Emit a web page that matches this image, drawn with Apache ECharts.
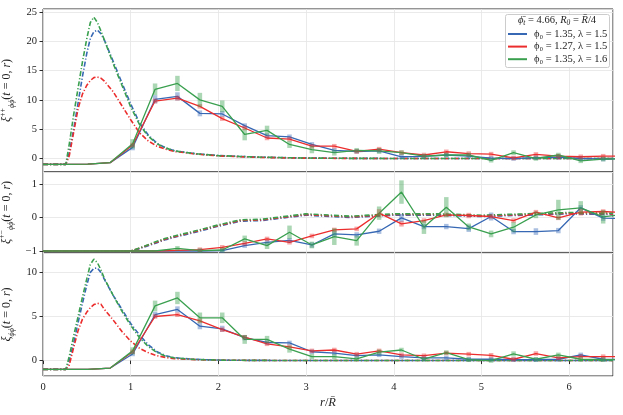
<!DOCTYPE html>
<html>
<head>
<meta charset="utf-8">
<script src="https://cdn.jsdelivr.net/npm/echarts@6/dist/echarts.min.js"></script>
<style>html,body{margin:0;padding:0;background:#fff}#c{width:623px;height:415px}</style>
</head>
<body>
<div id="c"></div>
<script>
// simulation grid (solid lines with error bars)
const xs = [0, 0.256, 0.511, 0.767, 1.022, 1.278, 1.533, 1.789, 2.044, 2.300, 2.555, 2.811, 3.066, 3.322, 3.577, 3.833, 4.088, 4.344, 4.599, 4.855, 5.110, 5.366, 5.621, 5.877, 6.132, 6.388, 6.643];
// theory grid (dash-dot lines)
const tx = [0, 0.26, 0.3, 0.35, 0.4, 0.45, 0.5, 0.54, 0.58, 0.62, 0.66, 0.7, 0.8, 0.9, 1.0, 1.1, 1.2, 1.3, 1.4, 1.5, 1.75, 2.0, 2.25, 2.5, 3.0, 3.5, 4.0, 4.5, 5.0, 5.5, 6.0, 6.5];

const names = ['ϕ₀ = 1.35, λ = 1.5', 'ϕ₀ = 1.27, λ = 1.5', 'ϕ₀ = 1.35, λ = 1.6'];

// panel 1: xi^{++}
const blue1  = [-1,-1,-0.95,-0.7,1.9,10.1,10.6,7.7,7.6,5.6,3.9,3.7,2.4,1.4,1.2,1.3,0.3,0.35,0.6,0.4,0.05,0.0,0.15,0.25,0.0,-0.1,0.0];
const red1   = [-1,-1,-0.95,-0.7,2.3,9.8,10.3,8.9,6.8,5.2,3.5,3.3,2.1,2.1,1.2,1.6,1.0,0.6,1.15,0.85,0.75,0.1,0.7,0.4,0.3,0.4,0.4];
const green1 = [-1,-1,-0.95,-0.7,2.5,11.8,12.8,10.0,8.9,4.1,4.8,2.4,1.5,1.0,1.4,1.3,1.0,0.4,0.6,0.6,-0.3,1.0,0.0,0.6,-0.4,-0.1,0.0];
const blueErr1  = [0,0,0,0,0.5,0.7,0.7,0.5,0.5,0.4,0.4,0.4,0.4,0.3,0.3,0.3,0.3,0.25,0.25,0.25,0.25,0.25,0.25,0.25,0.25,0.25];
const redErr1   = [0,0,0,0,0.3,0.4,0.4,0.3,0.3,0.25,0.25,0.25,0.25,0.25,0.25,0.25,0.25,0.25,0.25,0.25,0.25,0.25,0.25,0.25,0.25,0.25];
const greenErr1 = [0,0,0,0,0.8,1.0,1.3,1.2,1.0,1.0,0.8,0.6,0.6,0.5,0.4,0.5,0.4,0.3,0.3,0.3,0.3,0.4,0.3,0.3,0.3,0.3];
const tBlue1  = [-1,-1,1.0,5.0,9.5,14,18,20.5,21.6,21.9,21.3,20.2,16.6,12.9,9.3,6.1,4.0,2.6,1.8,1.3,0.8,0.5,0.35,0.22,0.08,0.03,0.01,0,0,0,0,0];
const tRed1   = [-1,-1,0.5,4.5,8.5,11,12.5,13.3,13.8,13.9,13.7,13.2,11.4,9.0,6.6,4.4,3.0,2.1,1.6,1.2,0.75,0.45,0.3,0.18,0.06,0.02,0,0,0,0,0,0];
const tGreen1 = [-1,-1,2.5,7.5,12,16.5,20.5,23.2,24.1,23.2,21.8,20.2,16.2,12.5,8.8,5.8,3.8,2.5,1.8,1.3,0.8,0.5,0.35,0.22,0.08,0.03,0.01,0,0,0,0,0];

// panel 2: xi^{+-}
const blue2  = [-1,-1,-1,-1,-1,-1,-1,-1,-0.99,-0.84,-0.74,-0.68,-0.82,-0.49,-0.52,-0.41,-0.01,-0.27,-0.27,-0.33,0.03,-0.42,-0.42,-0.39,0.29,-0.02,-0.03];
const red2   = [-1,-1,-1,-1,-1,-1,-0.98,-0.96,-0.89,-0.77,-0.64,-0.74,-0.55,-0.37,-0.34,0.13,-0.19,-0.09,0.08,0.06,0.03,-0.09,0.16,-0.01,0.16,0.18,0.15];
const green2 = [-1,-1,-1,-1,-1,-1,-0.92,-0.99,-0.97,-0.64,-0.84,-0.44,-0.82,-0.57,-0.69,0.13,0.76,-0.29,0.31,-0.28,-0.49,-0.29,0.08,0.23,0.29,0.02,0.1];
const blueErr2  = [0,0,0,0,0,0,0,0.03,0.05,0.06,0.07,0.07,0.08,0.08,0.08,0.08,0.12,0.08,0.08,0.1,0.12,0.08,0.1,0.08,0.08,0.08];
const redErr2   = [0,0,0,0,0,0,0,0.03,0.04,0.05,0.05,0.05,0.06,0.06,0.06,0.12,0.08,0.06,0.06,0.08,0.06,0.06,0.06,0.06,0.1,0.06];
const greenErr2 = [0,0,0,0,0,0,0.04,0.04,0.05,0.1,0.1,0.2,0.1,0.25,0.15,0.2,0.35,0.2,0.3,0.1,0.1,0.15,0.1,0.3,0.2,0.2];
const tBlue2  = [-1,-1,-1,-1,-1,-1,-1,-1,-1,-1,-1,-1,-1,-1,-1,-0.93,-0.84,-0.75,-0.66,-0.59,-0.43,-0.26,-0.11,-0.09,0.07,0.0,0.07,0.07,0.03,0.07,0.11,0.09];
const tRed2   = [-1,-1,-1,-1,-1,-1,-1,-1,-1,-1,-1,-1,-1,-1,-1,-0.92,-0.82,-0.73,-0.64,-0.57,-0.41,-0.24,-0.09,-0.07,0.09,0.02,0.09,0.09,0.05,0.09,0.13,0.11];
const tGreen2 = [-1,-1,-1,-1,-1,-1,-1,-1,-1,-1,-1,-1,-1,-1,-1,-0.91,-0.81,-0.71,-0.62,-0.55,-0.39,-0.22,-0.07,-0.05,0.11,0.04,0.11,0.11,0.07,0.11,0.15,0.13];

// panel 3: xi
const blue3  = [-1,-1,-1,-0.85,0.75,5.2,5.8,3.9,3.6,2.6,2.05,2.0,1.0,0.85,0.55,0.65,0.45,0.3,0.3,0.15,0.15,0.1,0.1,0.15,0.65,0.15,0.1];
const red3   = [-1,-1,-1,-0.85,1.0,5.0,5.2,4.5,3.5,2.65,1.9,1.55,1.1,1.2,0.73,1.1,0.65,0.55,0.85,0.73,0.6,0.15,0.8,0.3,0.45,0.45,0.45];
const green3 = [-1,-1,-1,-0.85,1.1,6.2,7.1,4.85,4.85,2.4,2.4,1.3,0.45,0.45,0.2,0.95,1.2,0.15,0.9,0.1,0.0,0.75,0.15,0.65,0.15,0.1,0.1];
const blueErr3  = [0,0,0,0,0.25,0.35,0.35,0.35,0.35,0.3,0.25,0.25,0.2,0.2,0.2,0.2,0.2,0.2,0.2,0.2,0.2,0.2,0.2,0.2,0.2,0.2];
const redErr3   = [0,0,0,0,0.15,0.2,0.2,0.15,0.15,0.15,0.15,0.15,0.15,0.15,0.15,0.15,0.15,0.15,0.15,0.15,0.15,0.15,0.15,0.15,0.15,0.15];
const greenErr3 = [0,0,0,0,0.4,0.6,0.7,0.6,0.6,0.5,0.4,0.4,0.3,0.3,0.25,0.3,0.25,0.25,0.25,0.25,0.25,0.3,0.25,0.25,0.25,0.25];
const tBlue3  = [-1,-1,0,2.0,4.3,6.5,8.6,10.0,10.45,10.5,10.0,9.2,7.4,5.8,4.2,2.9,1.8,1.0,0.55,0.32,0.13,0.06,0.03,0.02,0,0,0,0,0,0,0,0];
const tRed3   = [-1,-1,-0.5,1.5,3.4,4.7,5.5,6.0,6.35,6.5,6.4,5.8,4.6,3.3,2.2,1.4,0.9,0.55,0.35,0.22,0.1,0.05,0.03,0.02,0,0,0,0,0,0,0,0];
const tGreen3 = [-1,-1,0.5,2.8,5.0,7.2,9.3,10.9,11.5,11.1,10.3,9.3,7.4,5.6,4.0,2.6,1.6,0.9,0.5,0.3,0.12,0.05,0.03,0.02,0,0,0,0,0,0,0,0];

const colors = ['#3768b4', '#ec2d2d', '#3aa04f'];
const FONT = 'Liberation Serif';

const panels = [
  {sim:[blue1,red1,green1], err:[blueErr1,redErr1,greenErr1], th:[tBlue1,tRed1,tGreen1], min:-2.3, max:25.5, split:5, sup:'++'},
  {sim:[blue2,red2,green2], err:[blueErr2,redErr2,greenErr2], th:[tBlue2,tRed2,tGreen2], min:-1.06, max:1.36, split:2, sup:'+−'},
  {sim:[blue3,red3,green3], err:[blueErr3,redErr3,greenErr3], th:[tBlue3,tRed3,tGreen3], min:-1.75, max:12.2, split:3, sup:''}
];
const gridPos = [{top:9,height:163},{top:172,height:81},{top:253,height:123}];

const fmtY = v => (v < 0 ? '−' + Math.abs(v) : String(v));

const grids = gridPos.map(g => ({left:43, right:10, top:g.top, height:g.height, containLabel:false, outerBoundsMode:'none', show:true, borderColor:'#2a2a2a', borderWidth:1, backgroundColor:'transparent'}));
const xAxes = panels.map((p,i) => ({
  type:'value', gridIndex:i, min:0, max:6.5, splitNumber:6,
  axisLine:{show:false},
  axisTick:{show:i===2, length:3.5, lineStyle:{color:'#2a2a2a'}},
  axisLabel:{show:i===2, margin:6, fontFamily:FONT, fontSize:10.5, color:'#222', showMaxLabel:false},
  splitLine:{show:true, lineStyle:{color:'#e4e4e4', width:0.8}},
  name: i===2 ? '{i|r}/{i|R\u0304}' : '',
  nameLocation:'middle', nameGap:20,
  nameTextStyle:{fontFamily:FONT, fontSize:12.5, color:'#222', rich:{i:{fontFamily:FONT, fontStyle:'italic', fontSize:12.5, color:'#222'}}}
}));
const yAxes = panels.map((p,i) => ({
  type:'value', gridIndex:i, min:p.min, max:p.max, splitNumber:p.split,
  axisLine:{show:false},
  axisTick:{show:true, length:3.5, lineStyle:{color:'#2a2a2a'}},
  axisLabel:{margin:6, fontFamily:FONT, fontSize:10.5, color:'#222', showMinLabel:false, showMaxLabel:false, formatter:fmtY},
  splitLine:{show:true, lineStyle:{color:'#e4e4e4', width:0.8}},
  name: p.sup ? '{i|ξ}{s|' + p.sup + '}{b|ϕϕ}{m|(}{i|t}{m| = 0, }{i|r}{m|)}' : '{i|ξ}{b|ϕϕ}{m|(}{i|t}{m| = 0, }{i|r}{m|)}',
  nameLocation:'middle', nameRotate:90, nameGap:20,
  nameTextStyle:{fontFamily:FONT, fontSize:12, color:'#222', rich:{
    m:{fontFamily:FONT, fontSize:12, lineHeight:17, color:'#222'},
    i:{fontFamily:FONT, fontSize:12, lineHeight:17, color:'#222', fontStyle:'italic'},
    s:{fontFamily:FONT, fontSize:8, color:'#222', verticalAlign:'top', lineHeight:17},
    b:{fontFamily:FONT, fontSize:8, color:'#222', fontStyle:'italic', verticalAlign:'bottom', lineHeight:17}
  }}
}));

const series = [];
panels.forEach((p, pi) => {
  p.th.forEach((arr, k) => {
    series.push({
      type:'line', name:'theory'+k, xAxisIndex:pi, yAxisIndex:pi,
      data: tx.map((x, j) => [x, arr[j]]),
      showSymbol:false, symbol:'none', silent:true,
      lineStyle:{color:colors[k], width:1.6, type:[5,2,1.2,2]},
      itemStyle:{color:colors[k]}, z:2
    });
  });
  p.sim.forEach((arr, k) => {
    series.push({
      type:'line', name:names[k], xAxisIndex:pi, yAxisIndex:pi,
      data: xs.map((x, j) => [x, arr[j]]),
      showSymbol:false, symbol:'none',
      lineStyle:{color:colors[k], width:1.3},
      itemStyle:{color:colors[k]}, z:3
    });
  });
  p.err.forEach((earr, k) => {
    series.push({
      type:'custom', name:'err'+k, xAxisIndex:pi, yAxisIndex:pi, silent:true, clip:true,
      data: earr.map((e, j) => [xs[j], p.sim[k][j], e]),
      renderItem: (params, api) => {
        const x = api.value(0), y = api.value(1), e = api.value(2);
        if (!(e > 0)) return null;
        const a = api.coord([x, y + e]), b = api.coord([x, y - e]);
        const w = 4.5;
        let top = a[1], h = b[1] - a[1];
        if (h < w) { top = (a[1] + b[1]) / 2 - w / 2; h = w; }
        return {type:'rect', shape:{x:a[0] - w/2, y:top, width:w, height:h}, style:{fill:colors[k], opacity:0.42}};
      },
      z:4
    });
  });
});

const chart = echarts.init(document.getElementById('c'), null, {renderer:'canvas'});
chart.setOption({
  animation:false,
  backgroundColor:'#fff',
  grid:grids, xAxis:xAxes, yAxis:yAxes, series:series,
  legend:{
    data:names, orient:'vertical', left:508, top:28, padding:0, itemGap:0.6,
    icon:'rect', itemWidth:19, itemHeight:2,
    textStyle:{fontFamily:FONT, fontSize:10.5, color:'#222', lineHeight:12, padding:[0,0,0,2]},
    selectedMode:false, z:10
  },
  graphic:{elements:[
    {type:'rect', left:505, top:14, shape:{width:104, height:53, r:2}, style:{fill:'rgba(255,255,255,0.85)', stroke:'#cccccc', lineWidth:1}, z:9},
    {type:'text', x:557, y:20, style:{
      text:'{i|ϕ\u0304}{s|t}{m| = 4.66, }{i|R}{s|0}{m| = }{i|R\u0304}{m|/4}',
      align:'center', verticalAlign:'middle',
      rich:{
        m:{fontFamily:FONT, fontSize:10.5, fill:'#222'},
        i:{fontFamily:FONT, fontSize:10.5, fill:'#222', fontStyle:'italic'},
        s:{fontFamily:FONT, fontSize:7.5, fill:'#222', fontStyle:'italic', verticalAlign:'bottom', lineHeight:14}
      }}, z:10}
  ]}
});
</script>
</body>
</html>
